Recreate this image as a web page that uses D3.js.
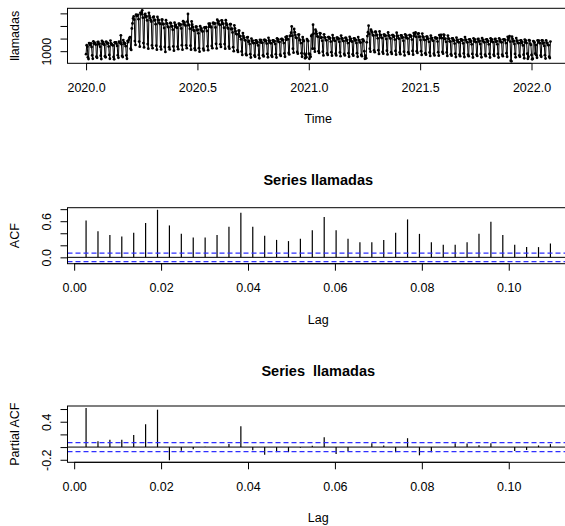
<!DOCTYPE html>
<html><head><meta charset="utf-8">
<script src="https://cdn.jsdelivr.net/npm/d3@7"></script>
<style>
body{margin:0;background:#fff;}
svg{display:block;font-family:"Liberation Sans",Arial,sans-serif;}
text{white-space:pre;}
</style></head>
<body>
<svg id="chart" width="565" height="526"></svg>
<script>
// Daily calls, starting Wed 2020-01-01, one row per week (Wed..Tue)
const llamadas = [
880,1240,1180,760,690,1320,1280,
1250,1310,1170,830,700,1390,1300,
1340,1280,1260,780,740,1360,1370,
1270,1300,1180,820,690,1410,1290,
1360,1290,1250,800,760,1380,1340,
1300,1320,1190,850,700,1420,1310,
1270,1250,1230,770,680,1350,1350,
1350,1290,1210,840,740,1380,1330,
1340,1630,1270,810,770,1440,1350,
1280,1310,1200,830,700,1400,1360,
1450,1520,1560,1100,1050,1900,2100,
2300,2380,2250,1400,1250,2450,2400,
2400,2440,2270,1380,1180,2520,2460,
2540,2620,2330,1320,1150,2450,2480,
2350,2390,2220,1280,1100,2520,2400,
2320,2230,2170,1230,1120,2350,2370,
2220,2240,2070,1220,1060,2360,2250,
2230,2120,2080,1180,1070,2250,2250,
2070,2080,1920,1170,970,2230,2100,
2090,1970,1950,1160,1070,2120,2110,
1980,1990,1850,1190,1020,2130,2010,
2040,1950,1930,1180,1080,2090,2080,
2020,2060,1900,1240,1060,2190,2070,
2150,2050,2010,1230,1120,2170,2475,
2030,2040,1890,1220,1060,2180,2050,
1950,1840,1810,1110,1040,1970,1970,
1830,1850,1710,1120,980,1990,1860,
1900,1800,1780,1100,1030,1940,1930,
1920,1950,1800,1200,1040,2090,1970,
2090,1980,1950,1210,1120,2120,2120,
2090,2100,1940,1290,1110,2250,2120,
2190,2080,2040,1270,1170,2220,2210,
2080,2090,1930,1280,1100,2230,2100,
2040,1930,1900,1180,1100,2070,2070,
1870,1890,1740,1160,1000,2020,1900,
1790,1690,1670,1040,970,1810,1810,
1580,1600,1470,990,850,1720,1600,
1530,1440,1430,890,840,1550,1560,
1370,1410,1280,880,750,1500,1400,
1420,1320,1320,830,780,1430,1430,
1320,1360,1230,850,720,1450,1350,
1440,1340,1330,840,790,1450,1450,
1390,1420,1300,890,760,1530,1420,
1410,1330,1310,830,780,1430,1430,
1370,1400,1280,880,750,1510,1400,
1470,1370,1360,860,810,1480,1490,
1430,1450,1320,910,780,1560,1450,
1590,1490,1470,930,870,1610,1610,
1730,1980,1610,1100,940,1880,1750,
1640,1540,1520,970,900,1660,1660,
1430,1450,1320,920,780,1560,1450,
1400,900,720,850,760,1480,1430,
1400,900,700,880,780,1600,1650,
1100,2050,1700,1100,980,1850,1780,
1690,1590,1570,1000,930,1720,1710,
1530,1550,1410,980,830,1670,1550,
1540,1440,1430,910,850,1560,1560,
1500,1520,1380,960,820,1640,1520,
1510,1420,1410,900,830,1540,1540,
1470,1500,1370,950,800,1620,1500,
1510,1410,1400,890,830,1530,1530,
1420,1450,1320,920,780,1570,1450,
1490,1390,1380,880,820,1510,1510,
1420,1450,1320,920,780,1560,1440,
1440,1350,1340,850,800,1460,1460,
1400,1000,700,820,720,1350,1600,
1750,2010,1680,1100,980,1850,1780,
1740,1640,1620,1030,960,1770,1760,
1630,1650,1510,1040,890,1780,1650,
1640,1540,1520,970,900,1660,1660,
1600,1620,1480,1020,870,1740,1620,
1620,1520,1500,960,890,1640,1640,
1570,1600,1460,1010,860,1730,1600,
1610,1510,1490,950,880,1630,1630,
1530,1550,1410,980,830,1670,1550,
1620,1520,1500,960,890,1640,1640,
1580,1600,1460,1010,860,1720,1600,
1690,1740,1570,1000,930,1690,1710,
1560,1580,1440,1000,850,1700,1580,
1560,1460,1440,920,860,1580,1580,
1480,1500,1370,950,810,1620,1500,
1520,1420,1410,900,830,1540,1540,
1500,1520,1380,960,820,1640,1520,
1640,1650,1520,970,900,1660,1640,
1480,1500,1370,950,810,1620,1500,
1490,1390,1380,880,820,1510,1510,
1410,1430,1300,900,770,1540,1430,
1450,1360,1350,860,800,1470,1470,
1420,1440,1310,910,770,1560,1440,
1450,1360,1350,860,800,1470,1470,
1370,1400,1270,890,750,1510,1400,
1470,1370,1360,860,810,1480,1490,
1380,1410,1280,890,760,1520,1410,
1450,1360,1350,860,800,1470,1470,
1370,1400,1270,890,750,1510,1400,
1470,1370,1360,860,810,1480,1490,
1370,1400,1270,890,750,1510,1400,
1450,1360,1350,860,800,1470,1470,
1430,1450,1320,920,780,1570,1450,
1540,1600,1380,620,600,1580,1490,
1380,1410,1280,890,760,1520,1400,
1420,1320,1320,830,780,1430,1430,
1320,1360,1230,860,720,1460,1350,
1420,1320,900,700,780,1440,1420,
1300,1250,850,680,700,1400,1380,
1340,900,1250,840,740,1430,1380,
1420,1320,1320,830,780,1430,1430,
1300,1340,1210,840,710,1430,1330,
1330,1250,1240,780,730,1380
];
const startYear = 2020;
const frequency = 365;
const timeTicks = [2020.0, 2020.5, 2021.0, 2021.5, 2022.0];
const timeTickLabels = ["2020.0","2020.5","2021.0","2021.5","2022.0"];
const valueTicks = [1000, 1500, 2000, 2500];
const valueTickLabels = ["1000", "", "", ""];

// ACF / PACF, lags 1..40 (in years: lag/365)
const acfValues = [0.61,0.435,0.37,0.347,0.41,0.57,0.79,0.53,0.39,0.33,
  0.33,0.37,0.51,0.74,0.51,0.36,0.29,0.27,0.31,0.45,
  0.67,0.45,0.31,0.25,0.25,0.29,0.41,0.63,0.39,0.25,
  0.21,0.21,0.25,0.39,0.59,0.37,0.21,0.17,0.17,0.23];
const pacfValues = [0.615,0.093,0.114,0.114,0.19,0.36,0.59,-0.207,-0.057,-0.036,
  0.005,0.0,0.047,0.33,-0.05,-0.12,-0.08,-0.08,-0.01,0.02,
  0.155,-0.11,-0.067,0.0,0.06,0.026,-0.08,0.14,-0.13,-0.08,
  0.0,0.06,0.057,0.03,0.06,0.0,-0.06,-0.047,0.026,0.047];
const lagTicks = [0.00,0.02,0.04,0.06,0.08,0.10];
const lagTickLabels = ["0.00","0.02","0.04","0.06","0.08","0.10"];
const acfTicks = [0.0,0.2,0.4,0.6,0.8];
const acfTickLabels = ["0.0","","","0.6",""];
const pacfTicks = [-0.2,0.0,0.2,0.4,0.6];
const pacfTickLabels = ["-0.2","","","0.4",""];
const titles = ["Series llamadas", "Series  llamadas"];

const svg = d3.select("#chart");
const L = 67.5, R = 569;
const FONT = 12.5;

function rExt(lo, hi){ const e = 0.04*(hi-lo); return [lo-e, hi+e]; }

function drawAxes(g, x, y, top, bottom, xt, xl, yt, yl, xlab, ylab, title, titleGap){
  g.append("rect").attr("x",L).attr("y",top).attr("width",R-L).attr("height",bottom-top)
    .attr("fill","none").attr("stroke","#000").attr("stroke-width",1);
  const xa = d3.axisBottom(x).tickValues(xt).tickFormat((d,i)=>xl[i]).tickSize(7).tickPadding(10);
  const gx = g.append("g").attr("transform",`translate(0,${bottom})`).call(xa);
  gx.select(".domain").attr("d", `M${x(xt[0])},0H${x(xt[xt.length-1])}`);
  gx.selectAll("text").attr("font-size",FONT).attr("font-family","Liberation Sans, Arial, sans-serif").attr("fill","#000").attr("dy","0.9em");
  const ya = d3.axisLeft(y).tickValues(yt).tickFormat((d,i)=>yl[i]).tickSize(7).tickPadding(0);
  const gy = g.append("g").attr("transform",`translate(${L},0)`).call(ya);
  gy.select(".domain").attr("d", `M0,${y(yt[0])}V${y(yt[yt.length-1])}`);
  gy.selectAll("text").attr("font-size",FONT).attr("font-family","Liberation Sans, Arial, sans-serif")
    .attr("fill","#000").attr("text-anchor","middle").attr("x",0).attr("dy",0)
    .attr("transform", d=>`translate(${-17},${0}) rotate(-90)`);
  gy.selectAll(".tick line").attr("stroke","#000");
  gx.selectAll(".tick line").attr("stroke","#000");
  g.append("text").attr("x",(L+R)/2).attr("y",bottom+56).attr("text-anchor","middle")
    .attr("dominant-baseline","central").attr("font-size",FONT).text(xlab);
  g.append("text").attr("transform",`translate(15,${(top+bottom)/2}) rotate(-90)`)
    .attr("text-anchor","middle").attr("dominant-baseline","central").attr("font-size",FONT).text(ylab);
  if (title) {
    g.append("text").attr("x",(L+R)/2).attr("y",top-titleGap).attr("text-anchor","middle")
      .attr("dominant-baseline","central").attr("font-size",14.5).attr("font-weight","bold")
      .attr("xml:space","preserve").text(title);
  }
}

// ---------- Panel 1: time series ----------
{
  const top = 8.3, bottom = 63.3;
  const n = llamadas.length;
  const times = llamadas.map((v,i)=> startYear + i/frequency);
  const x = d3.scaleLinear().domain(rExt(times[0], times[n-1])).range([L,R]);
  const y = d3.scaleLinear().domain(rExt(d3.min(llamadas), d3.max(llamadas))).range([bottom, top]);
  const g = svg.append("g");
  const line = d3.line().x((d,i)=>x(times[i])).y(d=>y(d));
  g.append("path").datum(llamadas).attr("d",line).attr("fill","none").attr("stroke","#000").attr("stroke-width",1);
  g.selectAll("circle").data(llamadas).join("circle")
    .attr("cx",(d,i)=>x(times[i])).attr("cy",d=>y(d)).attr("r",1.4).attr("fill","#000");
  drawAxes(g, x, y, top, bottom, timeTicks, timeTickLabels, valueTicks, valueTickLabels, "Time", "llamadas", null, 0);
}

function corrPanel(values, top, bottom, yt, yl, ylab, title, titleGap){
  const n = llamadas.length;
  const clim = 1.96/Math.sqrt(n);
  const lags = values.map((v,i)=>(i+1)/frequency);
  const x = d3.scaleLinear().domain(rExt(lags[0], lags[lags.length-1])).range([L,R]);
  const lo = Math.min(-clim, d3.min(values)), hi = Math.max(clim, d3.max(values));
  const y = d3.scaleLinear().domain(rExt(lo,hi)).range([bottom, top]);
  const g = svg.append("g");
  g.selectAll("line.bar").data(values).join("line").attr("class","bar")
    .attr("x1",(d,i)=>x(lags[i])).attr("x2",(d,i)=>x(lags[i]))
    .attr("y1",y(0)).attr("y2",d=>y(d)).attr("stroke","#000").attr("stroke-width",1.2);
  g.append("line").attr("x1",L).attr("x2",R).attr("y1",y(0)).attr("y2",y(0)).attr("stroke","#000").attr("stroke-width",1);
  [clim,-clim].forEach(c=>{
    g.append("line").attr("x1",L).attr("x2",R).attr("y1",y(c)).attr("y2",y(c))
      .attr("stroke","#2f2fff").attr("stroke-width",1.2).attr("stroke-dasharray","5,3");
  });
  drawAxes(g, x, y, top, bottom, lagTicks, lagTickLabels, yt, yl, "Lag", ylab, title, titleGap);
}

corrPanel(acfValues, 207.7, 263.7, acfTicks, acfTickLabels, "ACF", titles[0], 28);
corrPanel(pacfValues, 406, 462.3, pacfTicks, pacfTickLabels, "Partial ACF", titles[1], 35);
</script>
</body></html>
